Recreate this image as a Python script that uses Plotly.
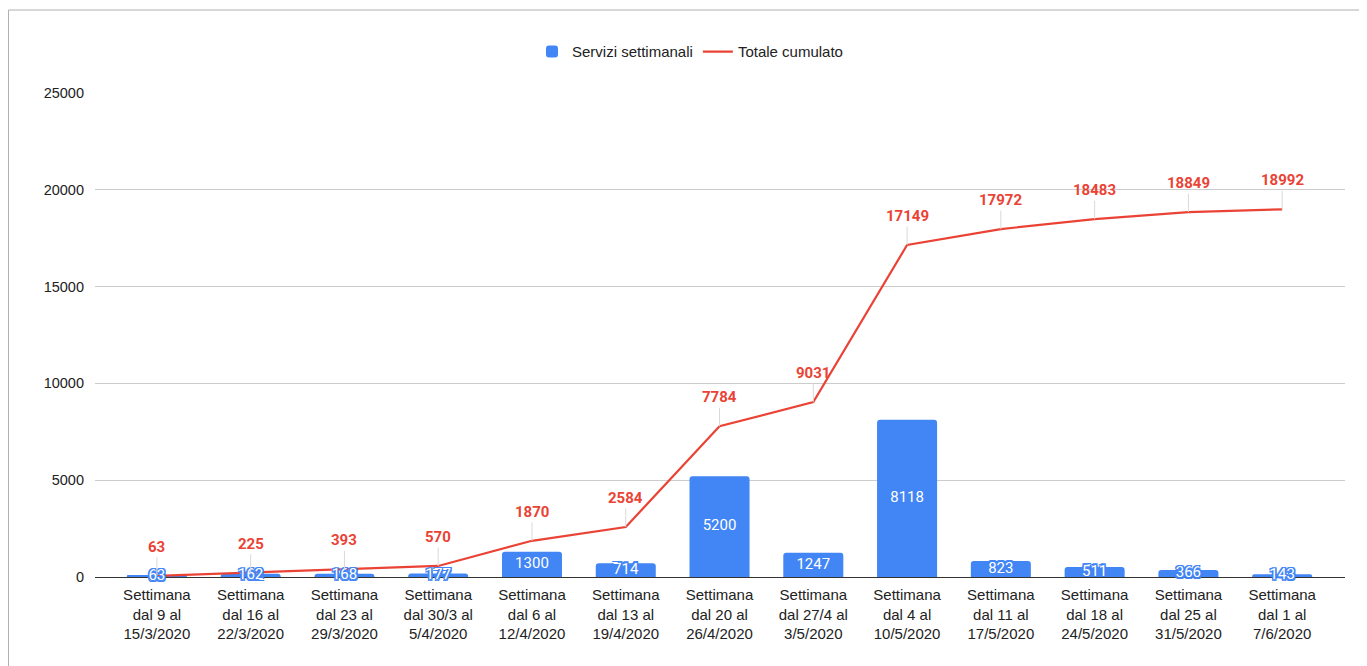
import plotly.graph_objects as go

categories = [
    "Settimana<br>dal 9 al<br>15/3/2020",
    "Settimana<br>dal 16 al<br>22/3/2020",
    "Settimana<br>dal 23 al<br>29/3/2020",
    "Settimana<br>dal 30/3 al<br>5/4/2020",
    "Settimana<br>dal 6 al<br>12/4/2020",
    "Settimana<br>dal 13 al<br>19/4/2020",
    "Settimana<br>dal 20 al<br>26/4/2020",
    "Settimana<br>dal 27/4 al<br>3/5/2020",
    "Settimana<br>dal 4 al<br>10/5/2020",
    "Settimana<br>dal 11 al<br>17/5/2020",
    "Settimana<br>dal 18 al<br>24/5/2020",
    "Settimana<br>dal 25 al<br>31/5/2020",
    "Settimana<br>dal 1 al<br>7/6/2020",
]
weekly = [63, 162, 168, 177, 1300, 714, 5200, 1247, 8118, 823, 511, 366, 143]
cumulative = [63, 225, 393, 570, 1870, 2584, 7784, 9031, 17149, 17972, 18483, 18849, 18992]
y_ticks = [0, 5000, 10000, 15000, 20000, 25000]

BLUE = "#4285F4"
RED = "#EA4335"
xs = list(range(len(categories)))

fig = go.Figure()
fig.add_trace(go.Bar(
    x=xs, y=weekly, name="Servizi settimanali",
    marker=dict(color=BLUE, cornerradius=3, line=dict(width=0)),
    width=0.64, hoverinfo="skip",
))
fig.add_trace(go.Scatter(
    x=xs, y=cumulative, name="Totale cumulato", mode="lines",
    line=dict(color=RED, width=2.2), hoverinfo="skip",
))
# bar value labels, centred in each bar
outline = ", ".join(f"{dx}px {dy}px 0 {BLUE}" for dx in (-1.5, 0, 1.5) for dy in (-1.5, 0, 1.5) if dx or dy)
fig.add_trace(go.Scatter(
    x=xs, y=[v / 2 for v in weekly], mode="text",
    text=[str(v) for v in weekly], showlegend=False, hoverinfo="skip",
    textfont=dict(family="Roboto", size=15, color="white", shadow=outline),
    cliponaxis=False,
))

annotations = []
for x, v in zip(xs, cumulative):
    annotations.append(dict(
        x=x, y=v, xref="x", yref="y", text=f"<b>{v}</b>",
        showarrow=True, arrowhead=0, arrowwidth=1, arrowcolor="#d9d9d9",
        ax=0, ay=-29, standoff=0, startstandoff=0,
        font=dict(family="Roboto", size=15, color=RED),
        yanchor="middle",
    ))

# page body adds an 8px offset; the plot area sits at x 95..1345, y 93..577 on screen
fig.update_layout(
    width=1359, height=658,
    margin=dict(l=87, r=22, t=85, b=89),
    paper_bgcolor="white", plot_bgcolor="white",
    font=dict(family="Liberation Sans, Arial", size=15, color="#222222"),
    showlegend=True,
    legend=dict(orientation="h", x=0.476, xanchor="center", y=1.085, yanchor="middle",
                font=dict(family="Liberation Sans, Arial", size=15, color="#222222"),
                itemwidth=30, entrywidthmode="pixels"),
    xaxis=dict(
        tickmode="array", tickvals=xs, ticktext=categories,
        range=[-0.66, 12.67], showgrid=False, zeroline=False,
        showline=False, ticks="", tickfont=dict(size=15, color="#222222"),
        ticklabelstandoff=7,
    ),
    yaxis=dict(
        range=[0, 25000], tickvals=y_ticks, ticktext=[str(t) for t in y_ticks],
        showgrid=True, gridcolor="#cccccc", gridwidth=1,
        zeroline=True, zerolinecolor="#333333", zerolinewidth=1,
        ticks="", tickfont=dict(size=14.5, color="#222222"), ticklabelstandoff=10,
    ),
    annotations=annotations,
    shapes=[dict(type="rect", xref="paper", yref="paper",
                 x0=(8.5 - 95) / 1250, x1=(1380 - 95) / 1250,
                 y0=(577 - 680) / 484, y1=(577 - 10) / 484,
                 line=dict(color="#b0b0b0", width=1), layer="below")],
    bargap=0.36,
)

fig.write_html("out.html")
